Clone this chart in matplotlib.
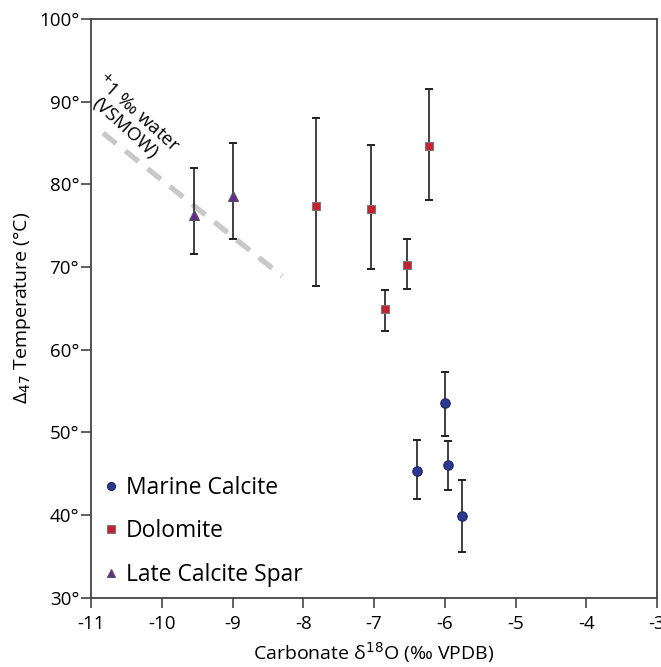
import matplotlib
matplotlib.use("Agg")
import matplotlib.pyplot as plt
from matplotlib.ticker import FixedLocator

plt.rcParams['font.family'] = ['Open Sans', 'DejaVu Sans']
plt.rcParams['axes.unicode_minus'] = False

# Marine calcite
mc_x = [-6.39, -6.00, -5.96, -5.76]
mc_y = [45.3, 53.5, 46.1, 39.9]
mc_lo = [41.9, 49.5, 43.0, 35.5]
mc_hi = [49.1, 57.3, 49.0, 44.2]

# Dolomite
do_x = [-7.82, -7.04, -6.22, -6.53, -6.85]
do_y = [77.4, 77.0, 84.6, 70.3, 64.9]
do_lo = [67.7, 69.7, 78.1, 67.4, 62.3]
do_hi = [88.0, 84.7, 91.5, 73.4, 67.2]

# Late calcite spar
lc_x = [-9.54, -9.00]
lc_y = [76.3, 78.6]
lc_lo = [71.6, 73.4]
lc_hi = [82.0, 85.0]

# +1 permil water line
w_x = [-10.83, -8.30]
w_y = [86.2, 68.9]

xticks = [-11, -10, -9, -8, -7, -6, -5, -4, -3]
yticks = [30, 40, 50, 60, 70, 80, 90, 100]
ylabels = [u"%d\u00b0" % v for v in yticks]

fig = plt.figure(figsize=(6.61, 6.67), dpi=100)
ax = fig.add_axes([0.1377, 0.1039, 0.8563, 0.8676])

ax.plot(w_x, w_y, color='#c8c8c8', lw=3.8, dash_capstyle='butt', dashes=(3.2, 2.2), zorder=1)
ax.text(-10.96, 92.3, u"$^{+}$1 \u2030 water", rotation=-42, rotation_mode='anchor',
        ha='left', va='baseline', fontsize=13.5)
ax.text(-11.0, 89.6, u"(VSMOW)", rotation=-42, rotation_mode='anchor',
        ha='left', va='baseline', fontsize=13.5)


def series(x, y, lo, hi, marker, color, ms, lab, mec):
    err = [[a - b for a, b in zip(y, lo)], [b - a for a, b in zip(y, hi)]]
    ax.errorbar(x, y, yerr=err, fmt='none', ecolor='#231f20', elinewidth=1.2,
                capsize=3.2, capthick=1.4, zorder=2)
    ax.plot(x, y, linestyle='none', marker=marker, color=color, ms=ms,
            mec=mec, mew=0.8, zorder=3, label=lab)


series(mc_x, mc_y, mc_lo, mc_hi, 'o', '#2b3990', 6.8, 'Marine Calcite', '#1d2560')
series(do_x, do_y, do_lo, do_hi, 's', '#c8202f', 6.3, 'Dolomite', '#777777')
series(lc_x, lc_y, lc_lo, lc_hi, '^', '#662d91', 7.5, 'Late Calcite Spar', '#555555')

ax.set_xlim(-11, -3)
ax.set_ylim(30, 100)
ax.xaxis.set_major_locator(FixedLocator(xticks))
ax.set_yticks(yticks)
ax.set_yticklabels(ylabels)
ax.tick_params(direction='out', length=7.5, width=1.2, labelsize=13.5, color='#444444')
ax.tick_params(axis='y', pad=1)
ax.tick_params(axis='x', pad=5)
for s in ax.spines.values():
    s.set_linewidth(1.3)
    s.set_color('#444444')

ax.set_xlabel(u"Carbonate \u03b4$^{18}$O (\u2030 VPDB)", fontsize=14, labelpad=5)
ax.set_ylabel(u"\u0394$_{47}$ Temperature (\u00b0C)", fontsize=14, labelpad=4)

leg = ax.legend(loc='lower left', bbox_to_anchor=(-0.013, -0.017), frameon=False, fontsize=16.5,
                markerscale=0.85, handlelength=0.6, handletextpad=0.35, labelspacing=0.85)

fig.savefig('out.png', dpi=100)
